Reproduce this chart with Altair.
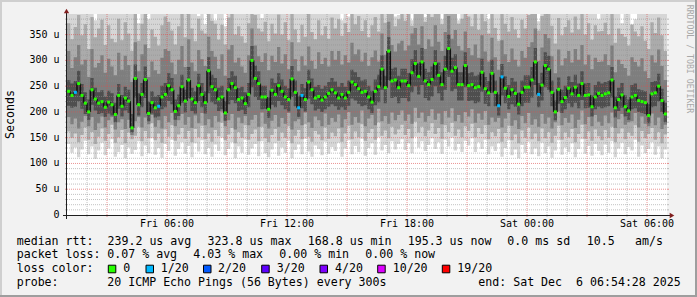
import altair as alt
import pandas as pd

# ---------------- data ----------------
START_HOUR = 1.0        # Fri 01:00, hours after Fri 00:00
END_HOUR = 31.0         # Sat 07:00
STEP_MINUTES = 10

median_us = [
    240, 232, 238, 255, 232, 217, 200, 243, 225, 217, 220, 209, 219, 214, 195, 232, 211, 227, 221, 169,
    265, 214, 234, 263, 197, 218, 208, 211, 229, 234, 251, 243, 201, 212, 249, 221, 262, 225, 218, 251,
    234, 218, 280, 249, 243, 225, 229, 198, 243, 255, 247, 224, 227, 216, 234, 300, 265, 255, 229, 229,
    205, 242, 234, 251, 240, 229, 224, 264, 238, 208, 232, 224, 258, 243, 227, 230, 223, 229, 236, 243,
    237, 227, 234, 227, 238, 258, 253, 245, 238, 240, 229, 219, 240, 249, 283, 247, 318, 260, 262, 247,
    260, 260, 251, 276, 294, 269, 297, 260, 253, 263, 294, 271, 253, 283, 323, 279, 286, 253, 253, 290,
    251, 253, 247, 249, 277, 245, 237, 275, 238, 212, 268, 246, 230, 243, 236, 215, 238, 248, 248, 262,
    297, 234, 252, 290, 283, 238, 200, 244, 220, 228, 246, 235, 248, 232, 255, 232, 233, 210, 229, 236,
    232, 235, 237, 262, 208, 224, 233, 210, 202, 229, 232, 222, 220, 218, 193, 235, 237, 250, 222, 196,
]
loss_step_index = [2, 27, 69, 70, 129, 130, 141]
loss_step_count = [1, 1, 1, 1, 1, 1, 1]

smoke_lo = [
    138, 121, 131, 112, 127, 144, 118, 133, 109, 125, 140, 116, 129, 147, 113, 122, 136, 110, 131, 119,
    126, 143, 114, 135, 120, 149, 117, 130, 111, 138, 124, 146, 115, 128, 141, 119, 134, 112, 139, 123,
    145, 118, 130, 113, 137, 124, 150, 116, 128, 141, 110, 133, 121, 146, 117, 129, 138, 114, 143, 120,
    112, 127, 139, 115, 131, 121, 144, 110, 126, 137, 118, 148, 123, 113, 135, 128, 116, 142, 119, 132,
    124, 140, 113, 129, 145, 118, 134, 122, 148, 115, 130, 139, 117, 151, 125, 136, 120, 143, 127, 138,
    147, 126, 139, 120, 152, 131, 143, 124, 136, 149, 128, 141, 119, 146, 133, 150, 125, 138, 122, 144,
    135, 149, 122, 141, 128, 146, 118, 133, 124, 139, 113, 130, 145, 116, 127, 110, 136, 121, 142, 118,
    129, 114, 140, 120, 133, 111, 125, 145, 117, 131, 122, 139, 112, 128, 147, 119, 134, 115, 138, 124,
    116, 137, 121, 143, 112, 129, 140, 118, 132, 125, 146, 113, 135, 120, 128, 141, 117, 133, 110, 127,
]
smoke_a_lo = [
    162, 150, 158, 141, 155, 170, 146, 161, 138, 152, 168, 144, 157, 175, 140, 151, 165, 139, 160, 147,
    154, 171, 143, 163, 149, 178, 145, 158, 140, 166, 152, 174, 144, 156, 169, 148, 163, 141, 167, 151,
    173, 147, 158, 142, 165, 153, 179, 145, 156, 169, 139, 161, 150, 174, 146, 157, 166, 143, 171, 149,
    141, 155, 167, 144, 160, 150, 172, 139, 154, 165, 147, 176, 152, 142, 163, 156, 145, 170, 148, 160,
    153, 168, 142, 158, 173, 147, 162, 151, 176, 144, 159, 167, 146, 180, 154, 164, 149, 171, 156, 166,
    175, 155, 167, 149, 181, 160, 171, 153, 164, 178, 157, 169, 148, 174, 161, 179, 154, 166, 151, 172,
    163, 177, 151, 169, 157, 174, 147, 161, 153, 167, 142, 159, 173, 145, 156, 139, 164, 150, 170, 147,
    158, 143, 168, 149, 161, 140, 154, 173, 146, 160, 151, 167, 141, 157, 175, 148, 162, 144, 166, 153,
    145, 165, 150, 171, 141, 158, 168, 147, 160, 154, 174, 142, 163, 149, 157, 169, 146, 161, 139, 156,
]
smoke_b_lo = [
    190, 176, 187, 168, 181, 192, 172, 190, 165, 178, 191, 170, 184, 190, 166, 180, 186, 167, 185, 155,
    182, 190, 170, 189, 176, 194, 171, 184, 168, 192, 180, 198, 172, 184, 196, 175, 190, 169, 193, 178,
    198, 174, 186, 170, 192, 181, 201, 172, 184, 196, 166, 189, 178, 192, 174, 185, 194, 171, 199, 177,
    168, 183, 194, 171, 188, 177, 198, 166, 182, 186, 174, 199, 180, 169, 191, 184, 172, 197, 175, 188,
    181, 195, 170, 186, 200, 175, 190, 179, 203, 172, 187, 194, 174, 206, 182, 192, 177, 199, 184, 194,
    203, 183, 195, 177, 208, 188, 199, 181, 192, 205, 185, 197, 176, 202, 189, 207, 182, 194, 179, 200,
    191, 205, 179, 197, 185, 202, 175, 189, 181, 188, 170, 187, 198, 173, 184, 167, 192, 178, 198, 175,
    186, 171, 196, 177, 189, 168, 180, 201, 174, 188, 179, 195, 169, 185, 203, 176, 190, 172, 194, 181,
    173, 193, 178, 199, 169, 186, 196, 175, 180, 182, 198, 170, 191, 177, 172, 197, 174, 189, 167, 175,
]
smoke_c_lo = [
    212, 208, 210, 220, 206, 196, 185, 214, 203, 196, 198, 190, 197, 193, 180, 206, 191, 203, 198, 160,
    228, 193, 209, 227, 182, 197, 189, 191, 205, 209, 221, 215, 185, 192, 218, 199, 227, 202, 197, 221,
    209, 197, 236, 219, 215, 202, 205, 183, 215, 223, 217, 202, 204, 196, 209, 248, 229, 223, 205, 206,
    188, 214, 209, 221, 213, 205, 201, 229, 211, 190, 207, 201, 226, 215, 203, 206, 200, 205, 210, 215,
    211, 204, 209, 204, 212, 226, 222, 216, 211, 213, 205, 198, 213, 219, 243, 217, 262, 227, 229, 217,
    227, 227, 220, 238, 250, 234, 252, 227, 222, 230, 250, 236, 222, 243, 268, 240, 245, 222, 222, 248,
    221, 222, 217, 219, 239, 216, 211, 237, 211, 193, 232, 217, 205, 215, 210, 195, 211, 218, 218, 228,
    252, 209, 222, 248, 243, 211, 184, 216, 198, 205, 217, 209, 218, 207, 223, 207, 208, 191, 205, 210,
    207, 209, 211, 228, 189, 202, 208, 191, 185, 205, 207, 200, 198, 196, 178, 209, 211, 220, 200, 180,
]
smoke_c_hi = [
    262, 255, 260, 280, 254, 238, 224, 266, 247, 238, 242, 230, 241, 236, 218, 254, 233, 249, 243, 196,
    292, 236, 256, 288, 220, 240, 230, 233, 251, 256, 275, 266, 224, 234, 272, 243, 287, 247, 240, 274,
    256, 240, 306, 272, 266, 247, 251, 221, 266, 279, 270, 246, 249, 238, 256, 328, 290, 279, 251, 251,
    228, 265, 256, 275, 263, 251, 246, 289, 261, 230, 254, 246, 282, 265, 249, 252, 245, 251, 258, 266,
    259, 249, 256, 249, 261, 282, 277, 268, 261, 263, 251, 241, 263, 272, 310, 270, 345, 284, 286, 270,
    284, 284, 275, 302, 320, 294, 324, 284, 277, 288, 320, 296, 277, 309, 350, 305, 312, 277, 277, 316,
    275, 277, 270, 272, 303, 268, 260, 301, 261, 234, 293, 269, 252, 266, 259, 237, 261, 271, 271, 287,
    324, 256, 276, 316, 309, 261, 222, 267, 243, 251, 269, 258, 272, 255, 279, 255, 256, 232, 252, 259,
    255, 258, 260, 287, 230, 247, 256, 232, 224, 252, 255, 244, 242, 240, 215, 258, 260, 274, 245, 218,
]
smoke_b_hi = [
    318, 285, 306, 330, 292, 301, 268, 322, 286, 295, 310, 276, 303, 288, 271, 315, 282, 309, 291, 258,
    335, 279, 312, 331, 268, 298, 281, 274, 305, 322, 318, 296, 273, 301, 328, 287, 341, 296, 279, 320,
    302, 289, 346, 318, 307, 284, 312, 270, 321, 330, 296, 305, 288, 276, 310, 362, 329, 308, 297, 314,
    281, 309, 297, 326, 294, 312, 283, 335, 302, 279, 308, 290, 327, 299, 284, 316, 293, 305, 288, 318,
    301, 318, 292, 310, 296, 334, 312, 321, 298, 315, 289, 306, 319, 298, 352, 311, 375, 330, 317, 333,
    338, 319, 329, 352, 363, 331, 366, 322, 341, 327, 368, 336, 318, 355, 386, 342, 359, 328, 319, 356,
    324, 310, 331, 305, 349, 317, 298, 344, 306, 282, 339, 312, 297, 323, 301, 288, 318, 305, 326, 335,
    362, 299, 325, 351, 343, 308, 275, 321, 290, 304, 318, 296, 322, 301, 330, 292, 311, 283, 305, 297,
    298, 312, 291, 329, 277, 301, 293, 285, 270, 306, 297, 288, 304, 279, 266, 310, 296, 321, 289, 262,
]
smoke_a_hi = [
    372, 341, 365, 388, 349, 370, 322, 384, 345, 362, 379, 330, 368, 342, 335, 381, 339, 374, 352, 318,
    396, 338, 371, 393, 324, 360, 346, 329, 368, 385, 375, 358, 331, 366, 390, 345, 400, 362, 337, 381,
    358, 352, 400, 377, 371, 340, 369, 331, 383, 392, 350, 366, 347, 334, 372, 400, 388, 362, 356, 375,
    337, 371, 352, 389, 350, 374, 339, 398, 360, 335, 369, 346, 390, 355, 341, 378, 349, 366, 342, 383,
    362, 380, 348, 372, 355, 394, 370, 386, 357, 378, 345, 368, 384, 356, 400, 373, 400, 392, 366, 380,
    398, 377, 390, 367, 400, 391, 400, 375, 399, 384, 400, 397, 370, 400, 400, 400, 400, 371, 381, 400,
    385, 366, 392, 359, 400, 376, 352, 400, 363, 338, 398, 371, 356, 384, 360, 344, 379, 362, 388, 395,
    400, 358, 386, 400, 400, 367, 333, 382, 349, 365, 378, 354, 385, 360, 391, 350, 372, 340, 368, 356,
    357, 373, 350, 390, 334, 362, 351, 346, 329, 369, 356, 347, 366, 338, 322, 374, 353, 383, 349, 318,
]
smoke_hi = [
    400, 400, 400, 400, 400, 400, 400, 400, 378, 400, 400, 400, 400, 400, 400, 400, 400, 400, 400, 400,
    400, 372, 400, 400, 380, 400, 400, 400, 400, 400, 400, 400, 400, 400, 400, 400, 400, 400, 400, 386,
    400, 370, 400, 400, 378, 400, 400, 366, 400, 400, 400, 400, 400, 400, 400, 400, 400, 400, 382, 400,
    400, 400, 400, 400, 400, 400, 400, 400, 400, 400, 400, 400, 400, 400, 400, 400, 400, 400, 400, 400,
    400, 400, 378, 400, 385, 400, 400, 400, 400, 400, 400, 400, 400, 400, 400, 400, 400, 400, 385, 388,
    400, 400, 400, 378, 400, 400, 400, 384, 400, 400, 400, 400, 380, 400, 400, 400, 400, 378, 400, 400,
    400, 400, 400, 400, 400, 400, 380, 400, 400, 400, 400, 390, 400, 400, 400, 400, 400, 400, 400, 400,
    400, 376, 392, 400, 400, 400, 400, 400, 400, 400, 400, 400, 400, 400, 400, 400, 400, 400, 400, 380,
    400, 400, 400, 400, 400, 400, 372, 400, 400, 370, 380, 400, 400, 400, 400, 400, 400, 400, 400, 400,
]

x_tick_hours = [6, 12, 18, 24, 30]
x_tick_labels = ["Fri 06:00", "Fri 12:00", "Fri 18:00", "Sat 00:00", "Sat 06:00"]
y_tick_values = [0, 50, 100, 150, 200, 250, 300, 350]
Y_MAX = 390

loss_legend_counts = [0, 1, 2, 3, 4, 10, 19]
loss_legend_labels = ["0", "1/20", "2/20", "3/20", "4/20", "10/20", "19/20"]
loss_legend_colors = ["#26ff00", "#00b8ff", "#0059ff", "#5e00ff", "#7e00ff", "#dd00ff", "#ff0000"]

median_stats = ["median rtt:", "239.2 us avg", "323.8 us max", "168.8 us min",
                "195.3 us now", "0.0 ms sd", "10.5", "am/s"]
loss_stats = ["packet loss:", "0.07 % avg", "4.03 % max", "0.00 % min", "0.00 % now"]
probe_texts = ["probe:", "20 ICMP Echo Pings (56 Bytes) every 300s", "end: Sat Dec  6 06:54:28 2025"]
loss_title = "loss color:"
y_title = "Seconds"
watermark = "RRDTOOL / TOBI OETIKER"

# ---------------- layout / style ----------------
MONO = "DejaVu Sans Mono"
NBSP = "\u00a0"
PL, PT = 67, 14          # plot origin in the page
W, H = 600, 201

median_x = [16.7, 107.5, 207.6, 307.8, 407.7, 507.3, 586.7, 635.0]
loss_x = [16.7, 107.3, 193.3, 279.3, 365.3]
probe_x = [16.7, 107.3, 478.3]
swatch_x = [108.3, 146.0, 203.5, 261.7, 320.0, 377.7, 442.3]
swatch_label_x = [123.3, 160.7, 218.0, 276.7, 335.0, 392.7, 457.3]
line_y = [241.7, 255.0, 269.0, 282.7]

# ---------------- tables ----------------
n = len(median_us)
step_h = STEP_MINUTES / 60.0
t0 = [START_HOUR + i * step_h for i in range(n)]
tc = [t + step_h / 2 for t in t0]
loss = [0] * n
for i, c in zip(loss_step_index, loss_step_count):
    loss[i] = c
color_of = dict(zip(loss_legend_counts, loss_legend_colors))
steps = pd.DataFrame({
    "t0": t0, "tc": tc, "med": median_us,
    "prev": [median_us[0]] + median_us[:-1],
    "col": [color_of[c] for c in loss],
})
area = pd.DataFrame({
    "t": t0, "lo": smoke_lo, "alo": smoke_a_lo, "blo": smoke_b_lo, "clo": smoke_c_lo,
    "chi": smoke_c_hi, "bhi": smoke_b_hi, "ahi": smoke_a_hi, "hi": smoke_hi,
})
last = area.iloc[[-1]].copy()
last["t"] = START_HOUR + n * step_h
area = pd.concat([area, last], ignore_index=True)

xs = alt.Scale(domain=[START_HOUR, END_HOUR], nice=False, zero=False)
ys = alt.Scale(domain=[0, Y_MAX], nice=False, zero=True)

layers = []


def band(lo, hi, color):
    return alt.Chart(area).mark_area(interpolate="step-after", color=color, opacity=1, clip=True).encode(
        x=alt.X("t:Q", scale=xs, axis=None),
        y=alt.Y(f"{lo}:Q", scale=ys, axis=None),
        y2=f"{hi}:Q",
    )


layers.append(band("lo", "hi", "#d6d6d6"))
layers.append(band("alo", "ahi", "#ababab"))
layers.append(band("blo", "bhi", "#7e7e7e"))
layers.append(band("clo", "chi", "#4e4e4e"))

# grid
h_minor = pd.DataFrame({"v": [v for v in range(10, Y_MAX, 10) if v % 50]})
h_major = pd.DataFrame({"v": [v for v in range(50, Y_MAX, 50)]})
v_minor = pd.DataFrame({"h": [h for h in range(2, int(END_HOUR)) if h % 3]})
v_major = pd.DataFrame({"h": [h for h in range(3, int(END_HOUR), 3)]})
for df, col, op in [(h_minor, "#8f8f8f", 0.55), (h_major, "#de4f4f", 0.6)]:
    layers.append(alt.Chart(df).mark_rule(color=col, opacity=op, strokeDash=[1, 1]).encode(
        y=alt.Y("v:Q", scale=ys, axis=None), x=alt.value(0), x2=alt.value(W)))
    layers.append(alt.Chart(df).mark_rule(color=col, opacity=op).encode(
        y=alt.Y("v:Q", scale=ys, axis=None), x=alt.value(-2), x2=alt.value(0)))
    layers.append(alt.Chart(df).mark_rule(color=col, opacity=op).encode(
        y=alt.Y("v:Q", scale=ys, axis=None), x=alt.value(W), x2=alt.value(W + 2)))
for df, col, op in [(v_minor, "#8f8f8f", 0.55), (v_major, "#de4f4f", 0.6)]:
    layers.append(alt.Chart(df).mark_rule(color=col, opacity=op, strokeDash=[1, 1]).encode(
        x=alt.X("h:Q", scale=xs, axis=None), y=alt.value(0), y2=alt.value(H)))
    layers.append(alt.Chart(df).mark_rule(color=col, opacity=op).encode(
        x=alt.X("h:Q", scale=xs, axis=None), y=alt.value(H), y2=alt.value(H + 2)))

# median: dark connectors and loss-coloured dots
layers.append(alt.Chart(steps).mark_rule(color="#111111", strokeWidth=1.5, clip=True).encode(
    x=alt.X("t0:Q", scale=xs, axis=None), y=alt.Y("prev:Q", scale=ys, axis=None), y2="med:Q"))
layers.append(alt.Chart(steps).mark_square(size=9, opacity=1, clip=True).encode(
    x=alt.X("tc:Q", scale=xs, axis=None), y=alt.Y("med:Q", scale=ys, axis=None),
    color=alt.Color("col:N", scale=None)))

# tick labels, placed through the scales
x_lab = pd.DataFrame({"h": x_tick_hours, "label": x_tick_labels})
y_lab = pd.DataFrame({"v": y_tick_values,
                      "label": [("0" + NBSP + NBSP) if v == 0 else f"{v}{NBSP}u" for v in y_tick_values]})
layers.append(alt.Chart(x_lab).mark_text(font=MONO, fontSize=10, color="#000000", align="center",
                                         baseline="middle").encode(
    x=alt.X("h:Q", scale=xs, axis=None), y=alt.value(224.3 - PT), text="label:N"))
layers.append(alt.Chart(y_lab).mark_text(font=MONO, fontSize=10, color="#000000", align="right",
                                         baseline="middle").encode(
    y=alt.Y("v:Q", scale=ys, axis=None), x=alt.value(59.6 - PL), text="label:N"))

one = pd.DataFrame({"a": [0]})

# axes lines and arrows
layers.append(alt.Chart(one).mark_rule(color="#1f1f1f").encode(
    x=alt.value(-4), x2=alt.value(W + 4), y=alt.value(H + 0.5)))
layers.append(alt.Chart(one).mark_rule(color="#1f1f1f").encode(
    x=alt.value(-0.5), y=alt.value(-4), y2=alt.value(H + 4)))
layers.append(alt.Chart(one).mark_point(shape="triangle-up", filled=True, size=28, color="#801f1f", opacity=1).encode(
    x=alt.value(-0.5), y=alt.value(-3)))
layers.append(alt.Chart(one).mark_point(shape="triangle-right", filled=True, size=28, color="#801f1f", opacity=1).encode(
    x=alt.value(W + 5), y=alt.value(H + 0.5)))

# frame
for x1, y1, x2, y2, col in [(-66, -14, None, 283, "#cfcfcf"), (-67, -13, 630, None, "#cfcfcf"),
                             (629, -14, None, 283, "#9e9e9e"), (-67, 282, 630, None, "#9e9e9e")]:
    if x2 is None:
        enc = dict(x=alt.value(x1), y=alt.value(y1), y2=alt.value(y2))
    else:
        enc = dict(x=alt.value(x1), x2=alt.value(x2), y=alt.value(y1))
    layers.append(alt.Chart(one).mark_rule(color=col, strokeWidth=2).encode(**enc))


def txt(s, x, y, size=11.6, color="#000000", angle=0, align="left"):
    return alt.Chart(one).mark_text(text=s.replace(" ", NBSP), font=MONO, fontSize=size, color=color,
                                    align=align, baseline="middle", angle=angle).encode(
        x=alt.value(x - PL), y=alt.value(y - PT))


for s, x in zip(median_stats, median_x):
    layers.append(txt(s, x, line_y[0]))
for s, x in zip(loss_stats, loss_x):
    layers.append(txt(s, x, line_y[1]))
layers.append(txt(loss_title, 16.7, line_y[2]))
for s, x in zip(loss_legend_labels, swatch_label_x):
    layers.append(txt(s, x, line_y[2]))
for s, x in zip(probe_texts, probe_x):
    layers.append(txt(s, x, line_y[3]))
for x, col in zip(swatch_x, loss_legend_colors):
    layers.append(alt.Chart(one).mark_rect(color=col, stroke="#000000", strokeWidth=1).encode(
        x=alt.value(x - PL), x2=alt.value(x - PL + 7.5),
        y=alt.value(line_y[2] - 3.8 - PT), y2=alt.value(line_y[2] + 3.8 - PT)))

layers.append(txt(y_title, 11, 114.5, angle=270, align="center"))
layers.append(txt(watermark, 688.5, 59, size=8.2, color="#a8a8a8", angle=90, align="center"))

chart = alt.layer(*layers).properties(
    width=W, height=H, autosize="none",
    padding={"left": PL, "top": PT, "right": 697 - PL - W, "bottom": 297 - PT - H},
    background="#f2f2f2",
).configure_view(fill="#ffffff", strokeWidth=0)

chart.save("out.html", embed_options={"renderer": "svg", "actions": False})
